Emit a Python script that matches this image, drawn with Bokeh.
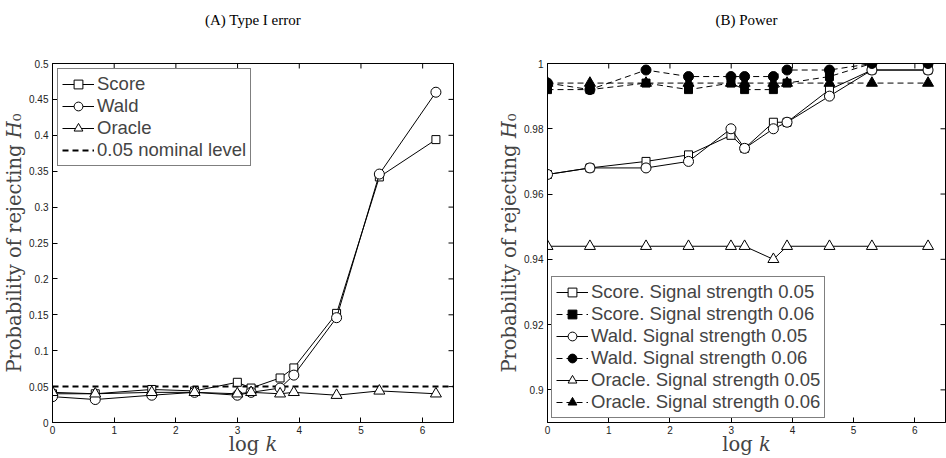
import math
from bokeh.plotting import figure
from bokeh.layouts import row
from bokeh.models import Legend, LegendItem, FixedTicker, Range1d, LinearAxis
from bokeh.embed import file_html
from bokeh.resources import INLINE

# ---- data ----
log_k = [0.0, 0.693, 1.609, 2.303, 2.996, 3.219, 3.689, 3.912, 4.605, 5.298, 6.215]

score_t1 = [0.040, 0.040, 0.046, 0.044, 0.056, 0.048, 0.062, 0.076, 0.152, 0.342, 0.394]
wald_t1 = [0.036, 0.032, 0.038, 0.042, 0.038, 0.042, 0.048, 0.066, 0.146, 0.346, 0.460]
oracle_t1 = [0.042, 0.040, 0.042, 0.042, 0.040, 0.042, 0.040, 0.042, 0.038, 0.044, 0.040]
nominal_level = 0.05

score_p05 = [0.966, 0.968, 0.970, 0.972, 0.978, 0.974, 0.982, 0.982, 0.992, 0.998, 0.998]
wald_p05 = [0.966, 0.968, 0.968, 0.970, 0.980, 0.974, 0.980, 0.982, 0.990, 0.998, 0.998]
oracle_p05 = [0.944, 0.944, 0.944, 0.944, 0.944, 0.944, 0.940, 0.944, 0.944, 0.944, 0.944]
score_p06 = [0.992, 0.992, 0.994, 0.992, 0.994, 0.992, 0.992, 0.994, 0.996, 1.000, 1.000]
wald_p06 = [0.994, 0.992, 0.998, 0.996, 0.996, 0.996, 0.996, 0.998, 0.998, 1.000, 1.000]
oracle_p06 = [0.994, 0.994, 0.994, 0.994, 0.994, 0.994, 0.994, 0.994, 0.994, 0.994, 0.994]

x_min, x_max = 0.0, 6.5
x_ticks = [0, 1, 2, 3, 4, 5, 6]
left_y_range = (0.0, 0.5)
left_y_ticks = [0.0, 0.05, 0.1, 0.15, 0.2, 0.25, 0.3, 0.35, 0.4, 0.45, 0.5]
left_y_labels = ["0", "0.05", "0.1", "0.15", "0.2", "0.25", "0.3", "0.35", "0.4", "0.45", "0.5"]
right_y_range = (0.89, 1.0)
right_y_ticks = [0.9, 0.92, 0.94, 0.96, 0.98, 1.0]
right_y_labels = ["0.9", "0.92", "0.94", "0.96", "0.98", "1"]

SERIF = "DejaVu Serif"
SANS = "Liberation Sans"
DASH = "6 4"


def make_fig(title, width, yr, yticks, ylabels, border_left, border_right):
    p = figure(width=width, height=458, output_backend="svg", toolbar_location=None,
               x_range=Range1d(x_min, x_max), y_range=Range1d(*yr),
               min_border_left=border_left, min_border_right=border_right,
               min_border_top=63, min_border_bottom=10)
    yr0, yr1 = yr
    p.grid.visible = False
    p.outline_line_color = "black"
    p.outline_line_width = 1
    bottom = p.below[0]
    left = p.left[0]
    bottom.ticker = FixedTicker(ticks=x_ticks)
    left.ticker = FixedTicker(ticks=yticks)
    left.major_label_overrides = {t: l for t, l in zip(yticks, ylabels)}
    bottom.axis_label = "log 𝑘"
    left.axis_label = "Probability of rejecting 𝐻₀"
    for ax in (bottom, left):
        ax.axis_label_text_font = SERIF
        ax.axis_label_text_font_size = "19.5px"
        ax.axis_label_text_font_style = "normal"
        ax.axis_label_standoff = 0
        ax.major_label_text_font = SANS
        ax.major_label_text_font_size = "10px"
        ax.major_label_text_color = "#222222"
        ax.major_label_standoff = 4
        ax.major_tick_in = 5
        ax.major_tick_out = 0
        ax.minor_tick_line_color = None
        ax.axis_line_color = "black"
        ax.major_tick_line_color = "black"
    bottom.major_label_standoff = 3
    bottom.axis_label_standoff = -4
    # panel title, drawn as the label of a tick-less axis above the frame
    head = LinearAxis(ticker=FixedTicker(ticks=[]), axis_label=title,
                      axis_line_color=None, major_tick_in=0, major_tick_out=0,
                      minor_tick_line_color=None, major_label_standoff=0,
                      axis_label_standoff=36, axis_label_text_font="Liberation Serif",
                      axis_label_text_font_size="15px", axis_label_text_font_style="normal",
                      axis_label_text_color="black")
    p.add_layout(head, "above")
    # inward tick marks on the top and right edges of the box
    p.scatter(x_ticks, [yr1] * len(x_ticks), marker="dash", angle=math.pi / 2,
              size=10, line_color="black", line_width=1)
    p.scatter([x_max] * len(yticks), yticks, marker="dash", size=10,
              line_color="black", line_width=1)
    return p


def series(p, y, marker, size, fill, dash):
    ln = p.line(log_k, y, line_color="black", line_width=1, line_dash=dash)
    sc = p.scatter(log_k, y, marker=marker, size=size, line_color="black",
                   fill_color=fill, line_width=1)
    return [ln, sc]


# ---- panel A ----
pa = make_fig("(A) Type I error", 470, left_y_range, left_y_ticks, left_y_labels, 43, 17)
nom = pa.line([x_min, x_max], [nominal_level, nominal_level], line_color="black",
              line_width=2, line_dash=DASH)
ra_s = series(pa, score_t1, "square", 8, "white", "solid")
ra_w = series(pa, wald_t1, "circle", 10, "white", "solid")
ra_o = series(pa, oracle_t1, "triangle", 11, "white", "solid")
leg_a = Legend(items=[
    LegendItem(label="Score", renderers=ra_s),
    LegendItem(label="Wald", renderers=ra_w),
    LegendItem(label="Oracle", renderers=ra_o),
    LegendItem(label="0.05 nominal level", renderers=[nom]),
], location="top_left", margin=5)
pa.add_layout(leg_a, "center")

# ---- panel B ----
pb = make_fig("(B) Power", 476, right_y_range, right_y_ticks, right_y_labels, 77, 1)
rb_s5 = series(pb, score_p05, "square", 8, "white", "solid")
rb_s6 = series(pb, score_p06, "square", 8, "black", DASH)
rb_w5 = series(pb, wald_p05, "circle", 10, "white", "solid")
rb_w6 = series(pb, wald_p06, "circle", 10, "black", DASH)
rb_o5 = series(pb, oracle_p05, "triangle", 11, "white", "solid")
rb_o6 = series(pb, oracle_p06, "triangle", 11, "black", DASH)
leg_b = Legend(items=[
    LegendItem(label="Score. Signal strength 0.05", renderers=rb_s5),
    LegendItem(label="Score. Signal strength 0.06", renderers=rb_s6),
    LegendItem(label="Wald. Signal strength 0.05", renderers=rb_w5),
    LegendItem(label="Wald. Signal strength 0.06", renderers=rb_w6),
    LegendItem(label="Oracle. Signal strength 0.05", renderers=rb_o5),
    LegendItem(label="Oracle. Signal strength 0.06", renderers=rb_o6),
], location="bottom_left", margin=4)
pb.add_layout(leg_b, "center")

for lg in (leg_a, leg_b):
    lg.label_text_font = SANS
    lg.label_text_font_size = "18.5px"
    lg.label_standoff = 3
    lg.glyph_width = 32
    lg.glyph_height = 22
    lg.label_height = 22
    lg.spacing = 0
    lg.padding = 4
    lg.border_line_color = "black"
    lg.border_line_width = 1
    lg.background_fill_alpha = 1

layout = row(pa, pb)
open("out.html", "w").write(file_html(layout, INLINE))
